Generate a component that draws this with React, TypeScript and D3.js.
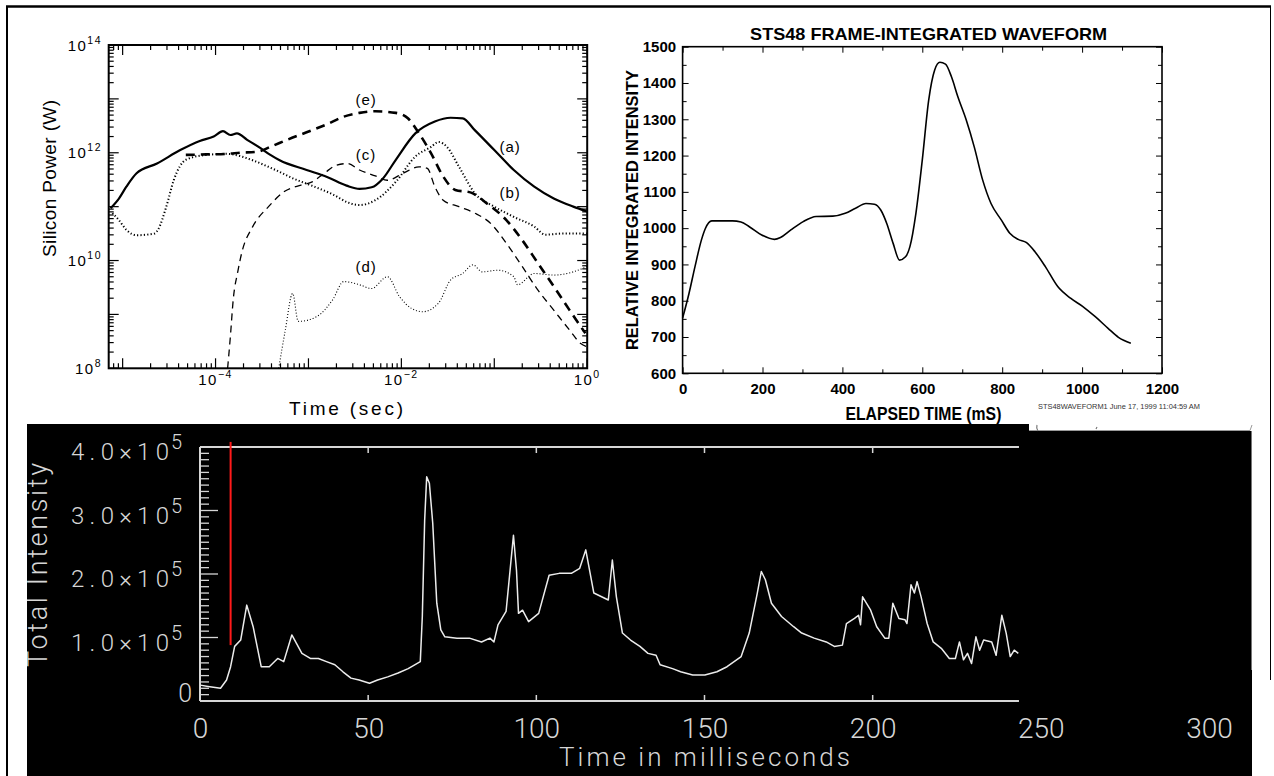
import * as d3 from "d3";
import { useEffect, useRef } from "react";

// ---------- top left: silicon power, points are [log10 time (s), log10 power (W)]
const powerA = [[-5.13,10.97],[-5.04,11.15],[-4.96,11.37],[-4.85,11.62],[-4.63,11.80],[-4.38,12.05],[-4.17,12.22],[-4.02,12.30],[-3.92,12.40],[-3.84,12.33],[-3.77,12.36],[-3.66,12.24],[-3.52,12.09],[-3.41,11.96],[-3.31,11.86],[-3.02,11.68],[-2.80,11.55],[-2.59,11.39],[-2.45,11.33],[-2.32,11.36],[-2.20,11.52],[-2.06,11.87],[-1.85,12.36],[-1.64,12.58],[-1.47,12.65],[-1.34,12.64],[-1.21,12.42],[-1.00,12.05],[-0.79,11.68],[-0.57,11.37],[-0.36,11.15],[-0.15,11.00],[0,10.91]];
const powerB = [[-5.11,10.88],[-5.04,10.75],[-4.96,10.57],[-4.85,10.47],[-4.66,10.50],[-4.62,10.57],[-4.53,11.00],[-4.45,11.49],[-4.32,11.87],[-4.10,11.96],[-3.88,11.98],[-3.74,11.94],[-3.60,11.86],[-3.38,11.70],[-3.16,11.52],[-2.95,11.38],[-2.73,11.22],[-2.58,11.08],[-2.45,11.03],[-2.28,11.12],[-2.06,11.46],[-1.85,11.93],[-1.68,12.11],[-1.60,12.20],[-1.51,12.11],[-1.38,11.74],[-1.21,11.25],[-1.00,11.00],[-0.79,10.81],[-0.57,10.63],[-0.45,10.48],[-0.28,10.50],[0,10.50]];
const powerC = [[-3.87,8.0],[-3.84,8.6],[-3.81,9.27],[-3.76,9.8],[-3.72,10.13],[-3.60,10.63],[-3.43,11.0],[-3.26,11.28],[-3.08,11.40],[-2.96,11.46],[-2.83,11.62],[-2.70,11.77],[-2.58,11.80],[-2.45,11.68],[-2.28,11.57],[-2.15,11.49],[-1.98,11.62],[-1.81,11.74],[-1.72,11.71],[-1.64,11.37],[-1.55,11.12],[-1.38,11.0],[-1.21,10.88],[-1.04,10.69],[-0.87,10.32],[-0.70,9.89],[-0.53,9.45],[-0.36,9.08],[-0.19,8.71],[-0.07,8.46],[0,8.40]];
const powerD = [[-3.32,8.0],[-3.25,8.7],[-3.17,9.39],[-3.11,8.87],[-2.91,8.96],[-2.74,9.27],[-2.62,9.61],[-2.45,9.55],[-2.32,9.48],[-2.15,9.70],[-2.02,9.33],[-1.89,9.11],[-1.77,9.05],[-1.60,9.21],[-1.47,9.64],[-1.34,9.76],[-1.23,9.92],[-1.13,9.79],[-0.96,9.82],[-0.79,9.70],[-0.75,9.55],[-0.57,9.76],[-0.36,9.73],[-0.15,9.79],[0,9.89]];
const powerE = [[-4.32,11.96],[-4.10,11.97],[-3.88,11.98],[-3.74,12.0],[-3.55,12.02],[-3.41,12.11],[-3.23,12.24],[-3.02,12.38],[-2.80,12.53],[-2.62,12.67],[-2.45,12.74],[-2.28,12.77],[-2.06,12.74],[-1.93,12.64],[-1.81,12.36],[-1.68,11.99],[-1.55,11.56],[-1.42,11.31],[-1.25,11.26],[-1.08,11.06],[-0.87,10.75],[-0.70,10.38],[-0.53,9.95],[-0.36,9.52],[-0.19,9.08],[-0.02,8.65]];
const powerLabels = [["(e)",-2.38,12.98],["(a)",-0.83,12.11],["(c)",-2.38,11.96],["(b)",-0.83,11.25],["(d)",-2.38,9.88]];
const powerXExp = [-4, -2, 0];
const powerYExp = [8, 10, 12, 14];

// ---------- top right: STS48 waveform
const stsTime = [0,16,31,47,57,73,94,125,146,167,198,230,245,271,302,334,376,407,433,459,480,496,511,527,543,558,569,584,600,616,631,644,658,673,689,710,730,751,772,798,819,840,861,882,908,939,971,1002,1033,1065,1091,1122];
const stsValue = [752,820,894,967,999,1020,1020,1020,1017,1004,981,969,974,995,1018,1032,1033,1041,1055,1068,1066,1050,1013,958,912,921,949,1041,1188,1353,1436,1457,1452,1417,1362,1298,1224,1133,1068,1022,986,969,960,935,894,839,807,784,756,724,699,683];
const stsXTicks = [0,200,400,600,800,1000,1200];
const stsYTicks = [600,700,800,900,1000,1100,1200,1300,1400,1500];

// ---------- bottom: total intensity (units of 1e5)
const totTime = [0.1,2.4,6.1,7.9,9.1,10.3,12.1,13.9,15.8,18.2,20.6,23.1,24.9,27.3,30.3,32.8,35.2,37.6,40.1,42.5,44.9,47.3,50.4,52.8,55.8,58.9,61.9,65.5,66.1,66.8,67.4,68.2,69.2,70.4,71.6,72.8,76.4,80.1,83.7,86.2,87.4,88.6,91.0,92.2,93.2,94.1,94.7,95.9,97.7,100.7,103.8,106.8,110.4,112.9,114.7,117.1,121.4,122.6,123.8,125.6,128.0,130.8,133.2,135.6,136.8,140.5,142.9,146.5,150.1,153.7,156.7,160.9,163.3,165.7,166.9,168.1,169.9,172.9,176.5,178.9,182.6,186.2,188.6,191.0,192.2,194.6,195.8,196.4,197.0,199.4,201.2,203.6,204.8,206.0,207.8,209.6,210.2,211.4,212.4,213.2,214.4,216.2,218.0,220.4,222.8,224.6,225.8,227.0,228.2,229.4,230.7,231.8,233.0,235.4,236.7,238.4,239.7,240.9,242.1,243.3];
const totValue = [0.25,0.23,0.20,0.33,0.54,0.86,0.96,1.51,1.17,0.54,0.54,0.67,0.62,1.04,0.75,0.67,0.67,0.62,0.57,0.46,0.36,0.33,0.28,0.33,0.38,0.44,0.51,0.62,1.33,2.85,3.53,3.43,2.80,1.54,1.12,1.01,0.99,0.99,0.93,0.99,0.93,1.20,1.41,2.06,2.61,2.06,1.38,1.43,1.25,1.38,1.98,2.01,2.01,2.09,2.38,1.70,1.59,2.22,1.64,1.07,0.96,0.86,0.75,0.72,0.57,0.51,0.46,0.41,0.41,0.46,0.54,0.70,1.07,1.70,2.04,1.91,1.54,1.33,1.17,1.07,0.99,0.93,0.86,0.88,1.22,1.30,1.35,1.20,1.64,1.43,1.17,0.99,0.99,1.54,1.30,1.28,1.22,1.83,1.70,1.88,1.64,1.22,0.93,0.83,0.67,0.67,0.93,0.65,0.75,0.59,1.01,0.80,0.96,0.93,0.72,1.35,1.07,0.70,0.80,0.75];
const totXTicks = [0,50,100,150,200,250,300];
const totYTicks = [0,1,2,3,4];
const totYLabels = ["0","1.0\u00d710","2.0\u00d710","3.0\u00d710","4.0\u00d710"];
const markerTime = 9.1;
const markerRange = [0.88, 4.08];

const drawSilicon = (svg) => {
  const L = 108.7, R = 587.2, T = 45, B = 368.3;
  const x = d3.scaleLog().domain([Math.pow(10, -5.15), 1]).range([L, R]);
  const y = d3.scaleLog().domain([1e8, 1e14]).range([B, T]);
  const g = svg.append("g").attr("font-family", "'Liberation Sans', Arial, sans-serif");
  const major = (v) => Math.abs(Math.log10(v) - Math.round(Math.log10(v))) < 1e-6;

  g.append("clipPath").attr("id", "clip-si").append("rect")
    .attr("x", L).attr("y", T).attr("width", R - L).attr("height", B - T);

  const xt = x.ticks();
  [[B, -1], [T, 1]].forEach(([yy, dir]) => {
    g.append("g").selectAll("line").data(xt).join("line")
      .attr("x1", d => x(d)).attr("x2", d => x(d))
      .attr("y1", yy).attr("y2", d => yy + dir * (major(d) ? 10 : 5))
      .attr("stroke", "#000").attr("stroke-width", 1.2);
  });
  const yt = y.ticks();
  [[L, 1], [R, -1]].forEach(([xx, dir]) => {
    g.append("g").selectAll("line").data(yt).join("line")
      .attr("y1", d => y(d)).attr("y2", d => y(d))
      .attr("x1", xx).attr("x2", d => xx + dir * (major(d) ? 10 : 5))
      .attr("stroke", "#000").attr("stroke-width", 1.2);
  });
  g.append("rect").attr("x", L).attr("y", T).attr("width", R - L).attr("height", B - T)
    .attr("fill", "none").attr("stroke", "#000").attr("stroke-width", 2);

  const line = d3.line().x(d => x(Math.pow(10, d[0]))).y(d => y(Math.pow(10, d[1]))).curve(d3.curveMonotoneX);
  const series = [
    { data: powerA, w: 2.2, dash: null },
    { data: powerB, w: 2, dash: "1.2 2.2" },
    { data: powerC, w: 1.3, dash: "7 5" },
    { data: powerD, w: 1.1, dash: "1 2" },
    { data: powerE, w: 2.6, dash: "9 6" },
  ];
  const cg = g.append("g").attr("clip-path", "url(#clip-si)");
  series.forEach(s => {
    cg.append("path").attr("d", line(s.data)).attr("fill", "none")
      .attr("stroke", "#000").attr("stroke-width", s.w)
      .attr("stroke-dasharray", s.dash);
  });

  g.selectAll(".lbl").data(powerLabels).join("text")
    .attr("x", d => x(Math.pow(10, d[1]))).attr("y", d => y(Math.pow(10, d[2])) + 5)
    .attr("text-anchor", "middle").attr("font-size", 15).attr("letter-spacing", 1)
    .text(d => d[0]);

  // tick labels with superscripts
  powerYExp.forEach(e => {
    const t = g.append("text").attr("x", 102).attr("y", y(Math.pow(10, e)) + 5.5)
      .attr("text-anchor", "end").attr("font-size", 15).attr("letter-spacing", 1.5);
    t.append("tspan").text("10");
    t.append("tspan").attr("dy", -7).attr("font-size", 10.5).text(String(e));
  });
  powerXExp.forEach(e => {
    const t = g.append("text").attr("x", x(Math.pow(10, e))).attr("y", 385)
      .attr("text-anchor", "middle").attr("font-size", 15).attr("letter-spacing", 1.5);
    t.append("tspan").text("10");
    t.append("tspan").attr("dy", -7).attr("font-size", 10.5).text(e === 0 ? "0" : "\u2212" + Math.abs(e));
  });

  g.append("text").attr("transform", "translate(56,178.5) rotate(-90)")
    .attr("text-anchor", "middle").attr("font-size", 19)
    .attr("textLength", 157).attr("lengthAdjust", "spacing").text("Silicon Power (W)");
  g.append("text").attr("x", 346).attr("y", 415)
    .attr("text-anchor", "middle").attr("font-size", 19)
    .attr("textLength", 114).attr("lengthAdjust", "spacing").text("Time (sec)");
};

const drawSts = (svg) => {
  const L = 682.6, R = 1162, T = 46.7, B = 373.3;
  const x = d3.scaleLinear().domain([0, 1200]).range([L, R]);
  const y = d3.scaleLinear().domain([600, 1500]).range([B, T]);
  const font = "'Liberation Sans', Arial, sans-serif";
  const g = svg.append("g").attr("font-family", font);

  const xMinor = d3.range(100, 1200, 200);
  const yMinor = d3.range(650, 1500, 100);
  const strip = (sel) => { sel.select(".domain").remove(); sel.selectAll("text").remove(); };
  const fmt = d3.format("d");

  const gx = g.append("g").attr("transform", `translate(0,${B})`)
    .call(d3.axisBottom(x).tickValues(stsXTicks).tickFormat(fmt).tickSizeInner(-6).tickSizeOuter(0).tickPadding(10));
  gx.select(".domain").remove();
  gx.selectAll("text").attr("font-family", font).attr("font-weight", "bold").attr("font-size", 15).attr("fill", "#000");
  g.append("g").attr("transform", `translate(0,${B})`).call(d3.axisBottom(x).tickValues(xMinor).tickSizeInner(-4).tickSizeOuter(0)).call(strip);
  g.append("g").attr("transform", `translate(0,${T})`).call(d3.axisTop(x).tickValues(stsXTicks).tickSizeInner(-6).tickSizeOuter(0)).call(strip);
  g.append("g").attr("transform", `translate(0,${T})`).call(d3.axisTop(x).tickValues(xMinor).tickSizeInner(-4).tickSizeOuter(0)).call(strip);

  const gy = g.append("g").attr("transform", `translate(${L},0)`)
    .call(d3.axisLeft(y).tickValues(stsYTicks).tickFormat(fmt).tickSizeInner(-6).tickSizeOuter(0).tickPadding(6.5));
  gy.select(".domain").remove();
  gy.selectAll("text").attr("font-family", font).attr("font-weight", "bold").attr("font-size", 15).attr("fill", "#000");
  g.append("g").attr("transform", `translate(${L},0)`).call(d3.axisLeft(y).tickValues(yMinor).tickSizeInner(-4).tickSizeOuter(0)).call(strip);
  g.append("g").attr("transform", `translate(${R},0)`).call(d3.axisRight(y).tickValues(stsYTicks).tickSizeInner(-6).tickSizeOuter(0)).call(strip);
  g.append("g").attr("transform", `translate(${R},0)`).call(d3.axisRight(y).tickValues(yMinor).tickSizeInner(-4).tickSizeOuter(0)).call(strip);
  g.selectAll(".tick line").attr("stroke", "#000").attr("stroke-width", 1);

  g.append("rect").attr("x", L).attr("y", T).attr("width", R - L).attr("height", B - T)
    .attr("fill", "none").attr("stroke", "#000").attr("stroke-width", 1.6);

  const line = d3.line().x((d, i) => x(stsTime[i])).y(d => y(d)).curve(d3.curveMonotoneX);
  g.append("path").attr("d", line(stsValue)).attr("fill", "none")
    .attr("stroke", "#000").attr("stroke-width", 1.6);

  g.append("text").attr("x", 928.6).attr("y", 40).attr("text-anchor", "middle")
    .attr("font-weight", "bold").attr("font-size", 17)
    .attr("textLength", 357).attr("lengthAdjust", "spacingAndGlyphs")
    .text("STS48 FRAME-INTEGRATED WAVEFORM");
  g.append("text").attr("x", 923.4).attr("y", 420).attr("text-anchor", "middle")
    .attr("font-weight", "bold").attr("font-size", 18)
    .attr("textLength", 156).attr("lengthAdjust", "spacingAndGlyphs")
    .text("ELAPSED TIME (mS)");
  g.append("text").attr("transform", "translate(638,210) rotate(-90)").attr("text-anchor", "middle")
    .attr("font-weight", "bold").attr("font-size", 17)
    .attr("textLength", 280).attr("lengthAdjust", "spacingAndGlyphs")
    .text("RELATIVE INTEGRATED INTENSITY");
  g.append("text").attr("x", 1038).attr("y", 409)
    .attr("font-size", 6.5).attr("fill", "#333")
    .attr("textLength", 162).attr("lengthAdjust", "spacingAndGlyphs")
    .text("STS48WAVEFORM1  June 17, 1999  11:04:59 AM");
};

const drawTotal = (svg) => {
  const L = 200, T = 447, B = 701;
  const tEnd = 243.5;
  const x = d3.scaleLinear().domain([0, 300]).range([200, 1209]);
  const y = d3.scaleLinear().domain([0, 4]).range([B, T]);
  const fg = "#d6d6d6";
  const font = "Roboto, 'DejaVu Sans', sans-serif";

  // black background with the little notch at top right
  svg.append("path")
    .attr("d", "M27,424 H1029 V431 H1252 V776 H27 Z")
    .attr("fill", "#000");
  svg.append("path").attr("d", "M1029,430.5 H1250 L1252,425").attr("fill", "none")
    .attr("stroke", "#9a9a9a").attr("stroke-width", 1);
  svg.append("line").attr("x1", 1251.5).attr("x2", 1251.5).attr("y1", 431).attr("y2", 670)
    .attr("stroke", "#777").attr("stroke-width", 1);
  svg.append("path").attr("d", "M1037,425 q-1,3 1,6 M1097,427 l-1,2").attr("fill", "none")
    .attr("stroke", "#777").attr("stroke-width", 1.2);

  svg.append("clipPath").attr("id", "clip-tot").append("rect")
    .attr("x", 27).attr("y", 424).attr("width", 1225).attr("height", 352);
  const g = svg.append("g").attr("clip-path", "url(#clip-tot)").attr("font-family", font)
    .attr("font-weight", 300);

  // axis box lines
  g.append("line").attr("x1", L).attr("x2", x(tEnd)).attr("y1", T).attr("y2", T).attr("stroke", fg).attr("stroke-width", 2);
  g.append("line").attr("x1", L).attr("x2", x(tEnd)).attr("y1", B).attr("y2", B).attr("stroke", fg).attr("stroke-width", 2);
  g.append("line").attr("x1", L).attr("x2", L).attr("y1", T).attr("y2", B).attr("stroke", fg).attr("stroke-width", 2);

  const xt = totXTicks.filter(v => v > 0 && v < tEnd);
  g.append("g").selectAll("line").data(xt).join("line")
    .attr("x1", d => x(d)).attr("x2", d => x(d)).attr("y1", T).attr("y2", T + 6)
    .attr("stroke", fg).attr("stroke-width", 1.5);
  g.append("g").selectAll("line").data(xt).join("line")
    .attr("x1", d => x(d)).attr("x2", d => x(d)).attr("y1", B).attr("y2", B - 6)
    .attr("stroke", fg).attr("stroke-width", 1.5);
  const yMinor = d3.range(0, 40.5, 1).map(v => v / 10);
  g.append("g").selectAll("line").data(yMinor).join("line")
    .attr("x1", L).attr("x2", d => L + (Math.abs(d - Math.round(d)) < 1e-6 ? 18 : 9))
    .attr("y1", d => y(d)).attr("y2", d => y(d))
    .attr("stroke", fg).attr("stroke-width", 1.3);

  // x tick labels
  const gx = g.append("g").attr("transform", `translate(0,${B})`)
    .call(d3.axisBottom(x).tickValues(totXTicks).tickSize(0).tickPadding(17));
  gx.select(".domain").remove();
  gx.selectAll("text").attr("font-family", font).attr("font-weight", 300)
    .attr("font-size", 28).attr("fill", fg);

  // y tick labels
  totYTicks.forEach((v, i) => {
    if (v === 0) {
      g.append("text").attr("x", 192).attr("y", y(v) + 1).attr("text-anchor", "end")
        .attr("font-size", 25).attr("fill", fg).text(totYLabels[i]);
      return;
    }
    g.append("text").attr("x", 169).attr("y", y(v) + 13).attr("text-anchor", "end")
      .attr("font-size", 24).attr("fill", fg)
      .attr("textLength", 98).attr("lengthAdjust", "spacing").text(totYLabels[i]);
    g.append("text").attr("x", 171).attr("y", y(v) + 2).attr("font-size", 20)
      .attr("fill", fg).text("5");
  });

  g.append("text").attr("transform", "translate(47,565) rotate(-90)").attr("text-anchor", "middle")
    .attr("font-size", 27).attr("fill", fg)
    .attr("textLength", 204).attr("lengthAdjust", "spacing").text("Total Intensity");
  g.append("text").attr("x", 704.5).attr("y", 766).attr("text-anchor", "middle")
    .attr("font-size", 26).attr("fill", fg)
    .attr("textLength", 291).attr("lengthAdjust", "spacing").text("Time in milliseconds");

  const line = d3.line().x((d, i) => x(totTime[i])).y(d => y(d));
  g.append("path").attr("d", line(totValue)).attr("fill", "none")
    .attr("stroke", "#ececec").attr("stroke-width", 1.5).attr("stroke-linejoin", "round");

  g.append("line").attr("x1", x(markerTime)).attr("x2", x(markerTime))
    .attr("y1", y(markerRange[1])).attr("y2", y(markerRange[0]))
    .attr("stroke", "#ff1a1a").attr("stroke-width", 2);
};

const redraw = (ref) => {
  const svg = d3.select(ref.current);
  svg.selectAll("*").remove();
  svg.append("rect").attr("width", 1274).attr("height", 776).attr("fill", "#fff");
  drawSilicon(svg);
  drawSts(svg);
  drawTotal(svg);
  // outer frame
  svg.append("line").attr("x1", 6).attr("x2", 1271).attr("y1", 6.5).attr("y2", 6.5).attr("stroke", "#000").attr("stroke-width", 2.5);
  svg.append("line").attr("x1", 7).attr("x2", 7).attr("y1", 6).attr("y2", 776).attr("stroke", "#000").attr("stroke-width", 2);
  svg.append("line").attr("x1", 1270.5).attr("x2", 1270.5).attr("y1", 6).attr("y2", 680).attr("stroke", "#000").attr("stroke-width", 1);
};

export default function App() {
  const ref = useRef(null);
  useEffect(() => {
    redraw(ref);
  }, []);
  return (
    <svg ref={ref} width={1274} height={776}
      style={{ position: "absolute", left: 0, top: 0, display: "block" }} />
  );
}
